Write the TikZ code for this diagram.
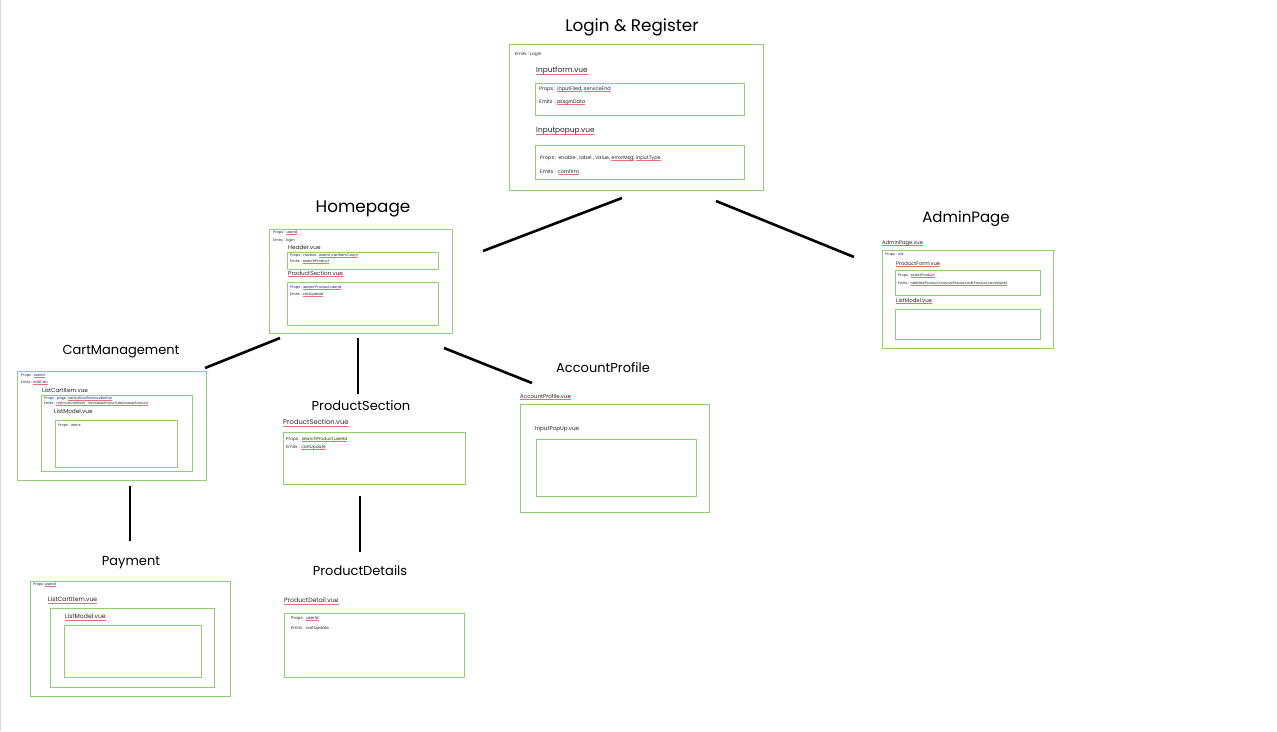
\documentclass[tikz,border=0pt]{standalone}
\usepackage{fontspec}
\setmainfont{Poppins}
\definecolor{squig}{RGB}{235,110,120}
\newcommand\sq[1]{\setbox0\hbox{#1}\rlap{\textcolor{squig}{\rule[-0.45ex]{\wd0}{0.55pt}}}\box0}
\definecolor{boxgreen}{RGB}{145,206,120}
\tikzset{
  box/.style={draw=boxgreen, line width=0.9pt},
  title/.style={font=\fontsize{#1}{#1}\selectfont, anchor=center, inner sep=0},
  vue/.style={font=\fontsize{#1}{#1}\selectfont, anchor=west, inner sep=0, text=black!85},
  tx/.style={font=\fontsize{#1}{#1}\selectfont, anchor=west, inner sep=0, text=black!85},
  conn/.style={line width=2.6pt, black},
}
\begin{document}
\begin{tikzpicture}[x=1pt,y=-1pt]
\useasboundingbox (0,0) rectangle (1277,731);
\fill[white] (0,0) rectangle (1277,731);
\draw[black!15, line width=0.6pt] (0.5,0) -- (0.5,731);

% Login & Register
\node[title=16.8] (tLR) at (632,27) {Login \& Register};
\draw[box] (509,44) rectangle (763,190);
\node[tx=4.3] (lr1) at (515,54) {Emits : Login};
\node[vue=7.4] (lr2) at (536,71) {\sq{Inputform.vue}};
\draw[box] (535,83) rectangle (744,115);
\node[tx=5] (lr3) at (539,89) {Props : \sq{inputFiled} , \sq{serviceEnd}};
\node[tx=5] (lr4) at (539,102) {Emits : \sq{assginData}};
\node[vue=7.4] (lr5) at (536,131) {\sq{Inputpopup.vue}};
\draw[box] (535,145) rectangle (744,179);
\node[tx=5] (lr6) at (540,158) {Props : enable , label , value, \sq{errorMsg} , \sq{inputType}};
\node[tx=5] (lr7) at (540,172) {Emits : \sq{comfirm}};

% Homepage
\node[title=16.8] (tHP) at (363,209) {Homepage};
\draw[box] (269,229) rectangle (452,333);
\node[tx=3.6] (hp1) at (273,233) {Props : \sq{userId}};
\node[tx=3.6] (hp2) at (273,241) {Emits : login};
\node[vue=5.7] (hp3) at (288,247) {Header.vue};
\draw[box] (287,252) rectangle (438,269);
\node[tx=3.6] (hp4) at (290,256) {Props : navbar , \sq{userId ,cartItemCount}};
\node[tx=3.6] (hp5) at (290,262) {Emits : \sq{searchProduct}};
\node[vue=5.7] (hp6) at (288,274) {\sq{ProductSection.vue}};
\draw[box] (287,282) rectangle (438,325);
\node[tx=3.6] (hp7) at (290,288) {Props : \sq{searchProduct,userId}};
\node[tx=3.6] (hp8) at (290,295) {Emits : \sq{cartUpdate}};

% AdminPage
\node[title=15] (tAP) at (966,219) {AdminPage};
\node[vue=5.2] (ap0) at (882,243) {\sq{AdminPage.vue}};
\draw[box] (882,250) rectangle (1053,348);
\node[tx=3.5] (ap1) at (885,255) {Props : uid};
\node[vue=5.2] (ap2) at (896,264) {\sq{ProductForm.vue}};
\draw[box] (895,270) rectangle (1040,295);
\node[tx=3.5] (ap3) at (898,276) {Props : \sq{selectProduct}};
\node[tx=3.5] (ap4) at (898,284) {Emits : \sq{addNewProduct,removeProduct,editProduct,cancelAdd}};
\node[vue=5.4] (ap5) at (896,301) {\sq{ListModel.vue}};
\draw[box] (895,309) rectangle (1040,339);

% CartManagement
\node[title=13] (tCM) at (121,352) {CartManagement};
\draw[box] (17,371) rectangle (206,480);
\node[tx=3.5] (cm1) at (21,376) {Props : \sq{userId}};
\node[tx=3.5] (cm2) at (21,383) {Emits : \sq{editCart}};
\node[vue=5.7] (cm3) at (42,390) {ListCartItem.vue};
\draw[box] (41,395) rectangle (192,471);
\node[tx=3.5] (cm4) at (44,398.5) {Props : page ,\sq{carts,showRemoveButton}};
\node[tx=3.5] (cm5) at (44,404) {Emits : \sq{removeCartItem , increaseAmount,decreaseAmount}};
\node[vue=5.8] (cm6) at (54,411) {ListModel.vue};
\draw[box] (55,420) rectangle (177,467);
\node[tx=3.5] (cm7) at (58,426) {Props : items};

% ProductSection
\node[title=13] (tPS) at (361,406) {ProductSection};
\node[vue=6.8] (ps0) at (283,423) {\sq{ProductSection.vue}};
\draw[box] (283,432) rectangle (465,484);
\node[tx=4.3] (ps1) at (286,439) {Props : \sq{searchProduct,userId}};
\node[tx=4.3] (ps2) at (286,447) {Emits : \sq{cartUpdate}};

% AccountProfile
\node[title=13] (tAC) at (603,368) {AccountProfile};
\node[vue=5.5] (ac0) at (520,397) {\sq{AccountProfile.vue}};
\draw[box] (520,404) rectangle (709,512);
\node[vue=5.6] (ac1) at (535,429) {InputPopUp.vue};
\draw[box] (536,439) rectangle (696,496);

% Payment
\node[title=13] (tPM) at (131,563) {Payment};
\draw[box] (30,581) rectangle (230,696);
\node[tx=3.6] (pm1) at (33,585) {Props :\sq{userId}};
\node[vue=6.1] (pm2) at (48,600) {\sq{ListCartItem.vue}};
\draw[box] (50,608) rectangle (214,687);
\node[vue=6.1] (pm3) at (65,617) {\sq{ListModel.vue}};
\draw[box] (64,625) rectangle (201,677);

% ProductDetails
\node[title=13] (tPD) at (360,571) {ProductDetails};
\node[vue=6.2] (pd0) at (284,601) {\sq{ProductDetail.vue}};
\draw[box] (284,613) rectangle (464,677);
\node[tx=4.1] (pd1) at (291,619) {Props : \sq{userId}};
\node[tx=4.1] (pd2) at (291,628) {Emits : cartUpdate};

% connector end points
\coordinate (c1a) at (622,198); \coordinate (c1b) at (483,251);
\coordinate (c2a) at (716,201); \coordinate (c2b) at (854,257);
\coordinate (c3a) at (280,338); \coordinate (c3b) at (205,368);
\coordinate (c4a) at (358,338); \coordinate (c4b) at (358,394);
\coordinate (c5a) at (444,348); \coordinate (c5b) at (532,383);
\coordinate (c6a) at (130,486); \coordinate (c6b) at (130,541);
\coordinate (c7a) at (360,496); \coordinate (c7b) at (360,552);
\draw[conn] (c1a) -- (c1b);
\draw[conn] (c2a) -- (c2b);
\draw[conn] (c3a) -- (c3b);
\draw[conn] (c4a) -- (c4b);
\draw[conn] (c5a) -- (c5b);
\draw[conn] (c6a) -- (c6b);
\draw[conn] (c7a) -- (c7b);
\end{tikzpicture}
\end{document}
